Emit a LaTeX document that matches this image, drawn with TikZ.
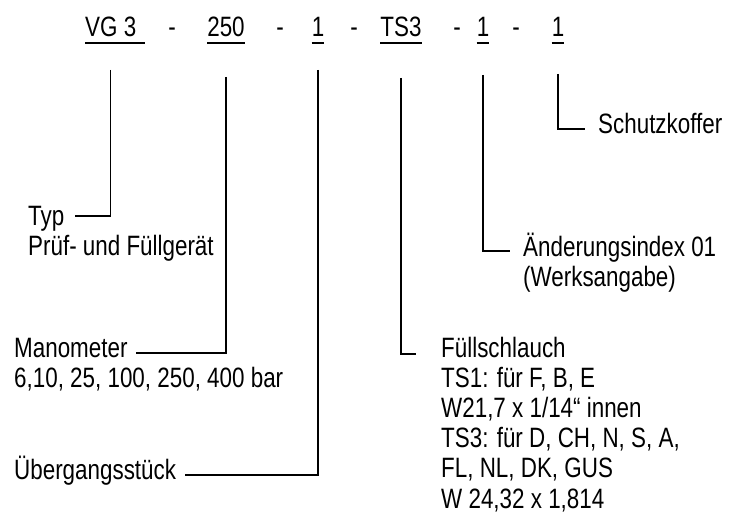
\documentclass[tikz,border=0pt]{standalone}
\usepackage{fontspec}
\setmainfont{Liberation Sans}[FakeStretch=0.8]
\usetikzlibrary{positioning}
\tikzset{
  code/.style={inner sep=0pt, anchor=base, font=\fontsize{28}{30}\selectfont},
  lbl/.style={inner sep=0pt, anchor=base west, font=\fontsize{28}{30}\selectfont},
  lead/.style={line width=1.2pt, line join=miter},
  uline/.style={line width=1.4pt},
}

\begin{document}
\begin{tikzpicture}[x=1pt, y=-1pt]
  \useasboundingbox (0,0) rectangle (741,516);

  % type code
  \node[code, anchor=base west] (vg) at (85,37) {VG 3};
  \node[code] (d1)   at (172,37) {-};
  \node[code] (p250) at (226,37) {250};
  \node[code] (d2)   at (280,37) {-};
  \node[code] (one)  at (318,37) {1};
  \node[code] (d3)   at (354,37) {-};
  \node[code] (ts)   at (401,37) {TS3};
  \node[code] (d4)   at (457,37) {-};
  \node[code] (idx)  at (483,37) {1};
  \node[code] (d5)   at (516,37) {-};
  \node[code] (kof)  at (558,37) {1};

  \draw[uline] ([yshift=-6pt]vg.base west) -- ([xshift=9pt,yshift=-6pt]vg.base east);
  \foreach \n in {p250, one, ts, idx, kof}
    \draw[uline] ([yshift=-6pt]\n.base west) -- ([yshift=-6pt]\n.base east);

  % labels
  \node[lbl] (schutz) at (598,134) {Schutzkoffer};
  \node[lbl] (aend)   at (523,256) {Änderungsindex 01};
  \node[lbl] (aend2)  at ([yshift=-30pt]aend.base west) {(Werksangabe)};
  \node[lbl] (typ)    at (28,225) {Typ};
  \node[lbl] (typ2)   at ([yshift=-30pt]typ.base west) {Prüf- und Füllgerät};
  \node[lbl] (mano)   at (14,357) {Manometer};
  \node[lbl] (mano2)  at ([yshift=-30.5pt]mano.base west) {6,10, 25, 100, 250, 400 bar};
  \node[lbl] (ueb)    at (14,479) {Übergangsstück};
  \node[lbl] (fuell)  at (441,357) {Füllschlauch};
  \foreach \t [count=\i] in {{TS1: für F, B, E}, {W21,7 x 1/14“ innen},
      {TS3: für D, CH, N, S, A,}, {FL, NL, DK, GUS}, {W 24,32 x 1,814}}
    \node[lbl] (fuell\i) at ([yshift=-30.2*\i pt]fuell.base west) {\t};

  % leaders
  \draw[lead] ([yshift=-33pt]vg.base)   |- ([xshift=10pt,yshift=9pt]typ.base east);
  \draw[lead] ([yshift=-40pt]p250.base) |- ([xshift=8pt,yshift=4pt]mano.base east);
  \draw[lead] ([yshift=-33pt]one.base)  |- ([xshift=9pt,yshift=4pt]ueb.base east);
  \draw[lead] ([yshift=-41pt]ts.base)   |- ([xshift=-25pt,yshift=3pt]fuell.base west);
  \draw[lead] ([yshift=-38pt]idx.base)  |- ([xshift=-13pt,yshift=5pt]aend.base west);
  \draw[lead] ([yshift=-37pt]kof.base)  |- ([xshift=-13pt,yshift=5pt]schutz.base west);
\end{tikzpicture}
\end{document}
